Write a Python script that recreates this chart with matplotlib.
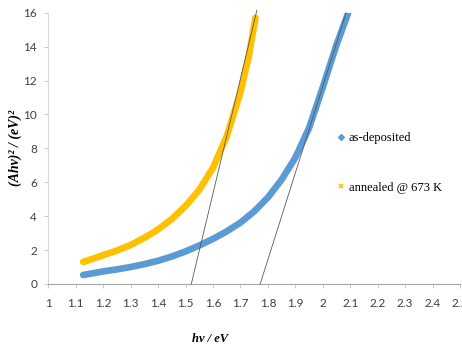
import numpy as np
import matplotlib
matplotlib.use("Agg")
from matplotlib import pyplot as plt
from matplotlib.lines import Line2D

# Tauc plot data, (A h nu)^2 vs photon energy
asdep_e = [1.127, 1.2, 1.25, 1.3, 1.35, 1.4, 1.45, 1.5, 1.55, 1.6, 1.65, 1.7,
           1.75, 1.8, 1.85, 1.9, 1.95, 2.0, 2.05, 2.092]
asdep_y = [0.53, 0.74, 0.86, 1.0, 1.17, 1.37, 1.62, 1.92, 2.27, 2.66, 3.1, 3.62,
           4.28, 5.1, 6.15, 7.45, 9.2, 11.6, 14.1, 15.96]

ann_e = [1.127, 1.15, 1.2, 1.25, 1.3, 1.35, 1.4, 1.45, 1.5, 1.55, 1.6, 1.65,
         1.7, 1.73, 1.755]
ann_y = [1.3, 1.42, 1.7, 1.97, 2.3, 2.72, 3.22, 3.83, 4.6, 5.55, 6.85, 8.7,
         11.3, 13.4, 15.7]

# linear extrapolations to the energy axis (band gap)
fit1_e = [1.521, 1.760]
fit1_y = [0.0, 16.15]
fit2_e = [1.772, 2.085]
fit2_y = [0.0, 16.0]

xticks = np.round(np.arange(1.0, 2.51, 0.1), 1)
xticklabels = ["1", "1.1", "1.2", "1.3", "1.4", "1.5", "1.6", "1.7", "1.8", "1.9",
               "2", "2.1", "2.2", "2.3", "2.4", "2.5"]
yticks = [0, 2, 4, 6, 8, 10, 12, 14, 16]

BLUE = "#5b9bd5"
YELLOW = "#ffc000"

fig = plt.figure(figsize=(4.62, 3.47), dpi=100)
ax = fig.add_axes([0.1045, 0.1816, 0.8912, 0.7818])

ax.plot(ann_e, ann_y, color=YELLOW, lw=4.8, solid_capstyle="round",
        solid_joinstyle="round", zorder=2)
ax.plot(asdep_e, asdep_y, color=BLUE, lw=4.8, solid_capstyle="round",
        solid_joinstyle="round", zorder=2)
ax.plot(fit1_e, fit1_y, color="#595959", lw=0.6, zorder=3, clip_on=False)
ax.plot(fit2_e, fit2_y, color="#595959", lw=0.6, zorder=3, clip_on=False)

ax.set_xlim(1.0, 2.5)
ax.set_ylim(0, 16)
ax.set_xticks(xticks)
ax.set_xticklabels(xticklabels)
ax.set_yticks(yticks)

for lab in ax.get_xticklabels() + ax.get_yticklabels():
    lab.set_fontfamily("Lato")
    lab.set_fontsize(8.5)
    lab.set_color("#404040")
ax.tick_params(axis="x", length=3, width=0.6, color="#bfbfbf", pad=7)
ax.tick_params(axis="y", length=3, width=0.6, color="#bfbfbf", pad=5)

for s in ["top", "right"]:
    ax.spines[s].set_visible(False)
ax.spines["left"].set_color("#d9d9d9")
ax.spines["bottom"].set_color("#a6a6a6")
ax.spines["left"].set_linewidth(0.8)
ax.spines["bottom"].set_linewidth(0.8)

fig.text(0.455, 0.006, "hν / eV", family="Liberation Serif",
         style="italic", weight="bold", fontsize=9, ha="center", va="bottom")
fig.text(0.032, 0.573, "(Ahν)² / (eV)²", family="Liberation Serif", style="italic",
         weight="bold", fontsize=10, rotation=90, ha="center", va="center")

handles = [Line2D([], [], ls="none", marker="D", ms=3, color=BLUE),
           Line2D([], [], ls="none", marker="x", ms=3, mew=1.2, color=YELLOW)]
ax.legend(handles, ["as-deposited", "annealed @ 673 K"], loc="upper left",
          bbox_to_anchor=(0.717, 0.637), bbox_transform=fig.transFigure,
          frameon=False, handlelength=0.6, handletextpad=0.3, borderpad=0,
          labelspacing=3.0, prop=dict(family="Liberation Serif", size=9))

fig.savefig("out.png", dpi=100)
